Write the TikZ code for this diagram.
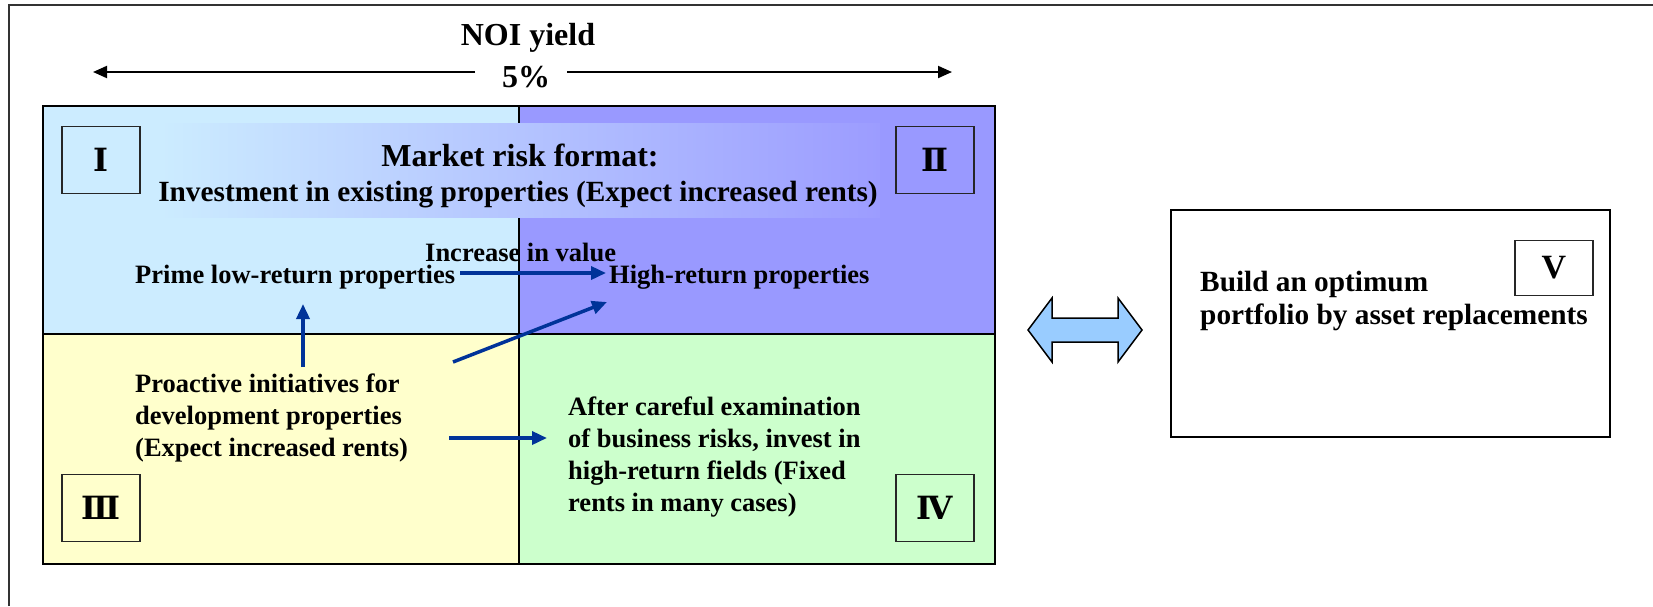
\documentclass[tikz,border=0pt]{standalone}
\usepackage{fontspec}
\setmainfont{Liberation Serif}
\newfontfamily\romfont{DejaVu Serif}
\usetikzlibrary{arrows.meta}

\definecolor{qone}{HTML}{CCECFF}
\definecolor{qtwo}{HTML}{9999FF}
\definecolor{qthree}{HTML}{FFFFCC}
\definecolor{qfour}{HTML}{CCFFCC}
\definecolor{swapfill}{HTML}{99CCFF}
\definecolor{flowblue}{HTML}{003399}
\definecolor{bandright}{HTML}{9C9CFF}

\begin{document}
\begin{tikzpicture}[x=1pt,y=-1pt,
  gridline/.style={draw=black, line width=2pt},
  numbox/.style={draw=black!85, line width=1.6pt, minimum width=78pt,
    minimum height=67pt, inner sep=0pt,
    font=\romfont\bfseries\fontsize{32}{32}\selectfont},
  bodytext/.style={font=\bfseries\fontsize{26.5}{32}\selectfont,
    align=left, inner sep=0pt},
  flow/.style={draw=flowblue, line width=3.5pt,
    -{Triangle[length=15pt,width=13pt]}},
  yieldarrow/.style={draw=black, line width=2pt,
    -{Triangle[length=14pt,width=12pt]}}]

\useasboundingbox (0,0) rectangle (1653,606);

% outer frame (open to the right and bottom)
\draw[line width=2pt, black!80] (9,606) -- (9,5) -- (1653,5);

% NOI yield scale
\node[font=\bfseries\fontsize{32}{36}\selectfont, inner sep=0pt] (noi) at (528,38) {NOI yield};
\node[font=\bfseries\fontsize{32}{36}\selectfont, inner sep=0pt] (pct) at (526,77) {5\%};
\coordinate (yl) at (93,72);
\coordinate (yr) at (952,72);
\coordinate (gl) at (475,72);
\coordinate (gr) at (567,72);
\draw[yieldarrow] (gl) -- (yl);
\draw[yieldarrow] (gr) -- (yr);

% quadrant fills
\fill[qone]   (43,106) rectangle (519,334);
\fill[qtwo]   (519,106) rectangle (995,334);
\fill[qthree] (43,334) rectangle (519,564);
\fill[qfour]  (519,334) rectangle (995,564);
\draw[gridline] (43,106) rectangle (995,564);
\draw[gridline] (519,106) -- (519,564);
\draw[gridline] (43,334) -- (995,334);

% heading band
\shade[left color=qone, right color=bandright] (160,123) rectangle (880,217);
\node[font=\bfseries\fontsize{32}{36}\selectfont, inner sep=0pt] (title) at (520,155) {Market risk format:};
\node[font=\bfseries\fontsize{29.3}{34}\selectfont, inner sep=0pt] (sub) at (518,195) {Investment in existing properties (Expect increased rents)};

% quadrant labels
\node[numbox] (n1) at (101,160) {Ⅰ};
\node[numbox] (n2) at (935,160) {Ⅱ};
\node[numbox] (n3) at (101,508) {Ⅲ};
\node[numbox] (n4) at (935,508) {Ⅳ};

% quadrant texts
\node[bodytext, anchor=west] (prime) at (135,277) {Prime low-return properties};
\node[bodytext, anchor=west] (high) at (609,277) {High-return properties};
\node[bodytext, anchor=west] (incr) at (425,252) {Increase in value};
\node[bodytext, anchor=west] (proact) at (135,418) {Proactive initiatives for\\development properties\\(Expect increased rents)};
\node[bodytext, anchor=west] (after) at (568,457) {After careful examination\\of business risks, invest in\\high-return fields (Fixed\\rents in many cases)};

% flows between quadrants
\coordinate (a1s) at (460,273);
\coordinate (a1e) at (606,273);
\coordinate (a2s) at (303,367);
\coordinate (a2e) at (303,304);
\coordinate (a3s) at (453,362);
\coordinate (a3e) at (607,302);
\coordinate (a4s) at (449,438);
\coordinate (a4e) at (547,438);
\draw[flow] (a1s) -- (a1e);
\draw[flow] (a2s) -- (a2e);
\draw[flow] (a3s) -- (a3e);
\draw[flow] (a4s) -- (a4e);

% two-way exchange arrow
\draw[fill=swapfill, line width=1.5pt, line join=miter]
  (1028,330) -- (1052,298) -- (1052,318) -- (1118,318) -- (1118,298)
  -- (1142,330) -- (1118,362) -- (1118,342) -- (1052,342) -- (1052,362) -- cycle;

% portfolio box
\draw[line width=2.2pt] (1171,210) rectangle (1610,437);
\node[numbox, minimum height=55pt, font=\bfseries\fontsize{34}{34}\selectfont] (n5) at (1554,268) {V};
\node[bodytext, anchor=west, font=\bfseries\fontsize{29.3}{33}\selectfont] (build) at (1200,301) {Build an optimum\\portfolio by asset replacements};

\end{tikzpicture}
\end{document}
